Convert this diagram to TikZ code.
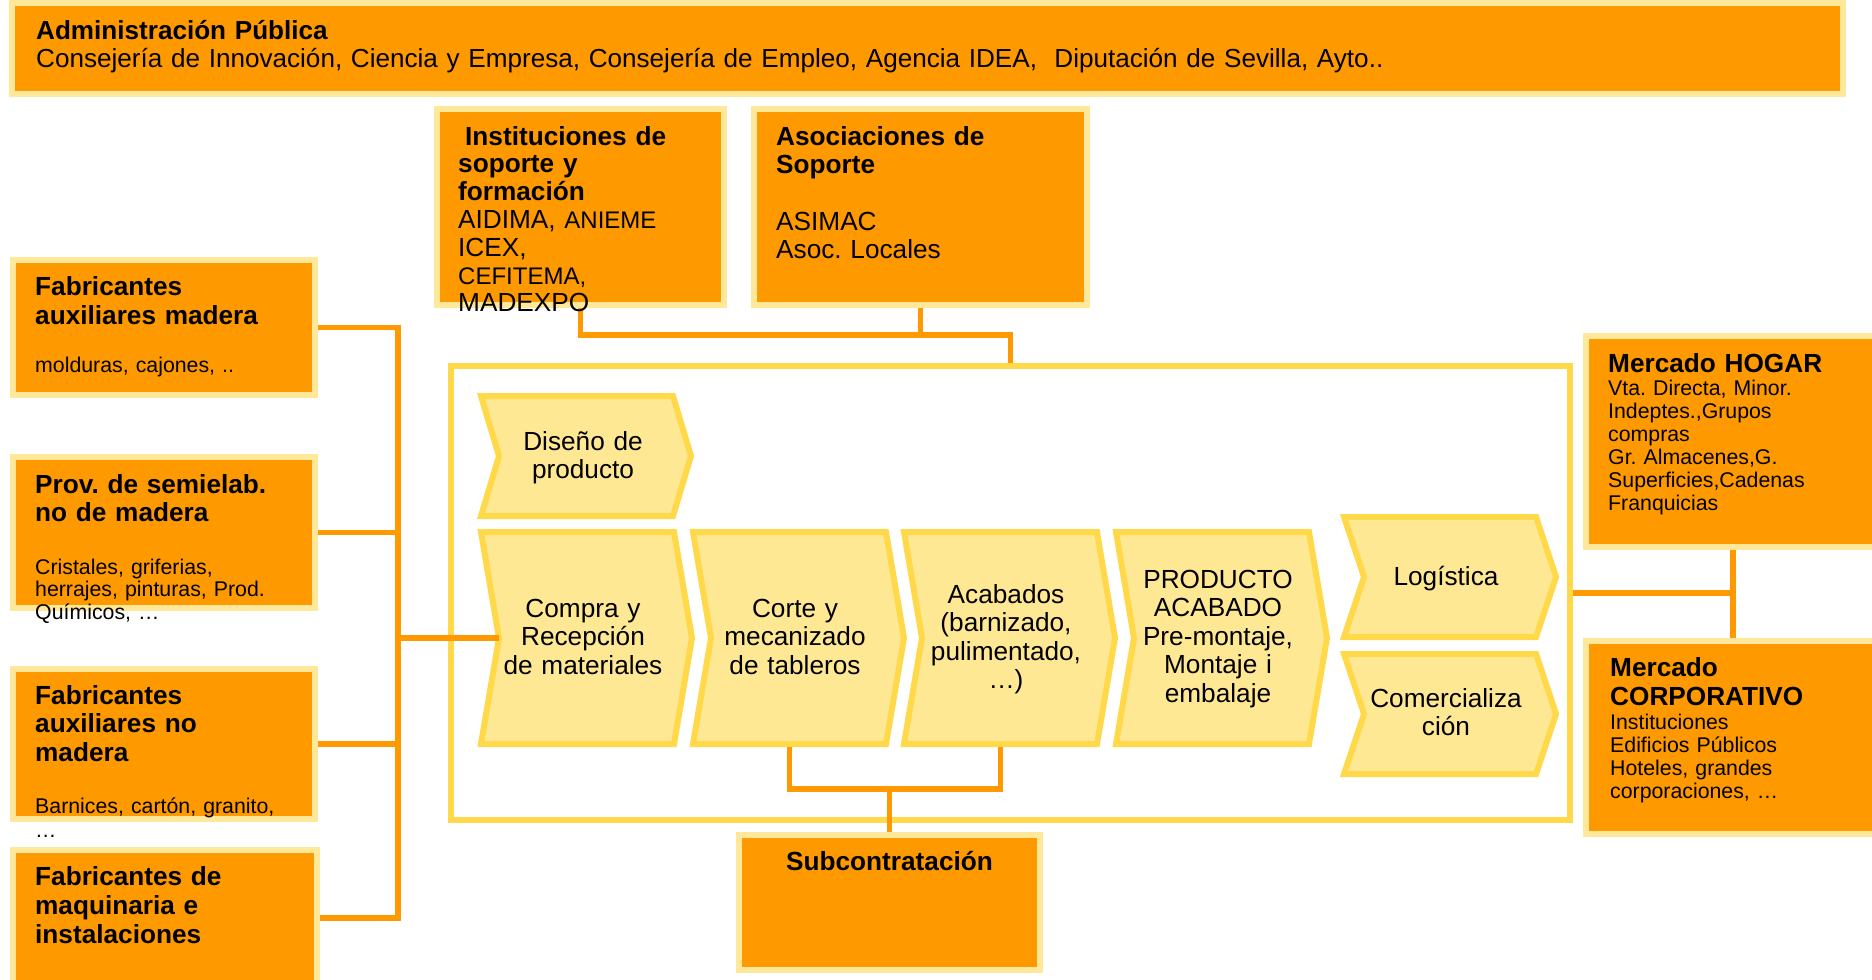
\documentclass[tikz,border=0pt]{standalone}
\usepackage{fontspec}
\setmainfont{Liberation Sans}
\frenchspacing
\definecolor{org}{HTML}{FF9900}
\definecolor{pale}{HTML}{FFE899}
\definecolor{chevfill}{HTML}{FFE893}
\definecolor{chevline}{HTML}{FFD94A}
\newcommand\mybig{\fontsize{26.2pt}{28.5pt}\selectfont}
\newcommand\mysmall{\fontsize{21.3pt}{23pt}\selectfont}
\newcommand\chevr[6]{%
  \draw[chev] (#2,#4) -- (#3,#4) -- ({#3+#6},{(#4+#5)/2}) -- (#3,#5) -- (#2,#5) -- ({#2+#6},{(#4+#5)/2}) -- cycle;
  \coordinate (#1-w) at ({#2+#6},{(#4+#5)/2});
  \coordinate (#1-s) at ({(#2+#3)/2},{#5+3});
}
\tikzset{
  obox/.style={rectangle, draw=pale, fill=org, line width=6pt, inner sep=0pt, outer sep=3pt},
  chev/.style={draw=chevline, fill=chevfill, line width=6pt, line join=miter},
  conn/.style={draw=org, line width=5.5pt},
  tl/.style={anchor=base west, inner sep=0pt, align=left, text width=#1},
  tc/.style={anchor=base, inner sep=0pt, align=center, text width=#1},
}
\begin{document}
\begin{tikzpicture}[x=1pt,y=-1pt]
\useasboundingbox (0,0) rectangle (1872,980);
\clip (0,0) rectangle (1872,980);
\fill[white] (0,0) rectangle (1872,980);

% boxes
\node[obox, minimum width=1831pt, minimum height=91pt] (admin) at (927.5,48.5) {};
\node[obox, minimum width=287pt, minimum height=196pt] (inst) at (580.5,207) {};
\node[obox, minimum width=333pt, minimum height=196pt] (asoc) at (920.5,207) {};
\node[obox, minimum width=302pt, minimum height=135pt] (fab1) at (164,327.5) {};
\node[obox, minimum width=302pt, minimum height=151pt] (prov) at (164,532.5) {};
\node[obox, minimum width=302pt, minimum height=150pt] (fab3) at (164,744) {};
\node[obox, minimum width=304pt, minimum height=150pt] (fab4) at (165,925) {};
\node[obox, minimum width=294pt, minimum height=211pt] (hogar) at (1733,441.5) {};
\node[obox, minimum width=294pt, minimum height=193pt] (corp) at (1733,737.5) {};
\node[obox, minimum width=301pt, minimum height=135pt] (sub) at (889.5,902.5) {};
\node[rectangle, draw=chevline, fill=white, line width=6pt, inner sep=0pt, outer sep=3pt,
      minimum width=1119pt, minimum height=454pt] (cadena) at (1010.5,593) {};

% chevrons
\chevr{dis}{481}{673}{396}{516}{18}
\chevr{compra}{481}{674}{532}{744}{18}
\chevr{corte}{693}{886}{532}{744}{18}
\chevr{acab}{904}{1097}{532}{744}{18}
\chevr{prod}{1116}{1309}{532}{744}{18}
\chevr{log}{1344}{1536}{517}{637}{20}
\chevr{com}{1344}{1536}{654}{774}{20}

% connectors
\coordinate (busEnd) at (398,918);
\draw[conn] (fab1.east) -| (busEnd) -- (fab4.east |- busEnd);
\draw[conn] (prov.east) -- (prov.east -| busEnd);
\draw[conn] (fab3.east) -- (fab3.east -| busEnd);
\draw[conn] (compra-w -| busEnd) -- (compra-w);
\coordinate (supJ) at (1010.5,335);
\draw[conn] (inst.south) |- (supJ) -- (cadena.north);
\draw[conn] (asoc.south) -- (asoc.south |- supJ);
\draw[conn] (cadena.east) -- (cadena.east -| hogar.south);
\draw[conn] (hogar.south) -- (corp.north);
\coordinate (subJ) at (889.5,789);
\draw[conn] (corte-s) |- (subJ) -| (acab-s);
\draw[conn] (subJ) -- (sub.north);

% texts
\node[tl=1750pt, font={\fontsize{26.1pt}{28pt}\selectfont}] (adminT) at (36,39)
  {\textbf{Administración Pública}\\Consejería de Innovación, Ciencia y Empresa, Consejería de Empleo, Agencia IDEA,\ \ Diputación de Sevilla, Ayto..};
\node[tl=270pt, font={\fontsize{26.2pt}{27.8pt}\selectfont}] (instT) at (458,145)
  {\textbf{\hspace*{7pt}Instituciones de}\\\textbf{soporte y}\\\textbf{formación}\\AIDIMA, {\fontsize{24pt}{27.8pt}\selectfont ANIEME}\\ICEX,\\{\fontsize{24pt}{27.8pt}\selectfont CEFITEMA,}\\MADEXPO};
\node[tl=300pt, font={\fontsize{26.2pt}{28pt}\selectfont}] (asocT) at (776,145)
  {\textbf{Asociaciones de}\\\textbf{Soporte}\\[29pt]ASIMAC\\Asoc. Locales};

\node[tl=280pt, font={\fontsize{26.2pt}{29pt}\selectfont\bfseries}] (fab1T) at (35,295) {Fabricantes\\auxiliares madera};
\node[tl=280pt, font=\mysmall] (fab1S) at (35,372) {molduras, cajones, ..};
\node[tl=280pt, font={\fontsize{26.2pt}{28.5pt}\selectfont\bfseries}] (provT) at (35,493) {Prov. de semielab.\\no de madera};
\node[tl=280pt, font={\fontsize{21.3pt}{22.5pt}\selectfont}] (provS) at (35,574) {Cristales, griferias,\\herrajes, pinturas, Prod.\\Químicos, …};
\node[tl=280pt, font={\fontsize{26.2pt}{28.5pt}\selectfont\bfseries}] (fab3T) at (35,704) {Fabricantes\\auxiliares no\\madera};
\node[tl=280pt, font={\fontsize{21.3pt}{24pt}\selectfont}] (fab3S) at (35,813) {Barnices, cartón, granito,\\…};
\node[tl=280pt, font={\fontsize{26.2pt}{29pt}\selectfont\bfseries}] (fab4T) at (35,885) {Fabricantes de\\maquinaria e\\instalaciones};

\node[tl=260pt, font={\fontsize{26.2pt}{28pt}\selectfont\bfseries}] (hogarT) at (1608,372) {Mercado HOGAR};
\node[tl=260pt, font={\fontsize{21.3pt}{23pt}\selectfont}] (hogarS) at (1608,395)
  {Vta. Directa, Minor.\\Indeptes.,Grupos\\compras\\Gr. Almacenes,G.\\Superficies,Cadenas\\Franquicias};
\node[tl=260pt, font={\fontsize{26.2pt}{29pt}\selectfont\bfseries}] (corpT) at (1610,676) {Mercado\\CORPORATIVO};
\node[tl=260pt, font={\fontsize{21.3pt}{23pt}\selectfont}] (corpS) at (1610,729)
  {Instituciones\\Edificios Públicos\\Hoteles, grandes\\corporaciones, …};
\node[tc=290pt, font={\fontsize{26.2pt}{28pt}\selectfont\bfseries}] (subT) at (889.5,870) {Subcontratación};

\node[tc=210pt, font=\mybig] (disT) at (583,450) {Diseño de\\producto};
\node[tc=210pt, font=\mybig] (compraT) at (583,617) {Compra y\\Recepción\\de materiales};
\node[tc=210pt, font=\mybig] (corteT) at (795,617) {Corte y\\mecanizado\\de tableros};
\node[tc=210pt, font=\mybig] (acabT) at (1006,603) {Acabados\\(barnizado,\\pulimentado,\\…)};
\node[tc=210pt, font=\mybig] (prodT) at (1218,588) {PRODUCTO\\ACABADO\\Pre-montaje,\\Montaje i\\embalaje};
\node[tc=210pt, font=\mybig] (logT) at (1446,585) {Logística};
\node[tc=210pt, font=\mybig] (comT) at (1446,707) {Comercializa\\ción};
\end{tikzpicture}
\end{document}
